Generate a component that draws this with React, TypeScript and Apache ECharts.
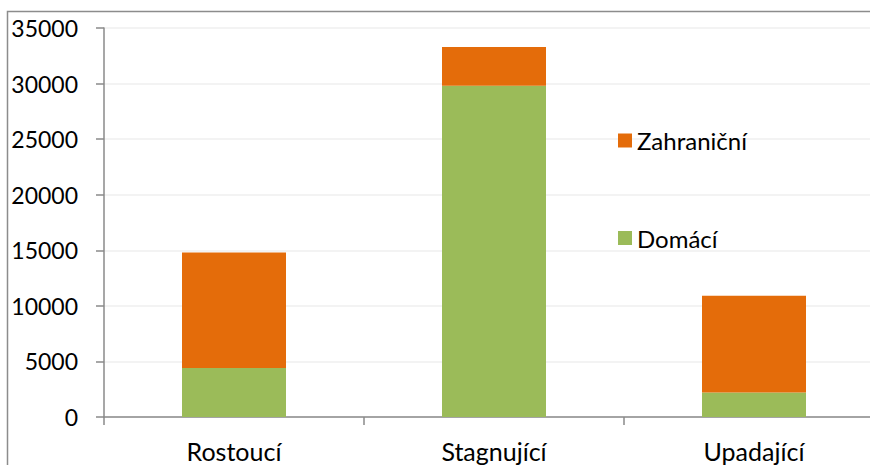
import React, { useEffect, useRef } from "react";
import * as echarts from "echarts";

const categories = ["Rostoucí", "Stagnující", "Upadající"];
const domaci = [4400, 29800, 2200];
const zahranicni = [10400, 3500, 8700];
const yTicks = { min: 0, max: 35000, interval: 5000 };
const seriesNames = ["Domácí", "Zahraniční"];

export default function App() {
  const ref = useRef<HTMLDivElement>(null);
  useEffect(() => {
    document.body.style.margin = "0";
    document.body.style.overflow = "hidden";
    const chart = echarts.init(ref.current!, null, { renderer: "svg" });
    const font = "Lato";
    const legendText = { fontFamily: font, fontSize: 24, lineHeight: 24, color: "#000" };
    chart.setOption({
      animation: false,
      backgroundColor: "#ffffff",
      textStyle: { fontFamily: font },
      grid: { left: 104, right: 0, top: 28, bottom: 48 },
      legend: [
        {
          data: [seriesNames[1]],
          left: 618,
          top: 128.5,
          padding: 0,
          orient: "vertical",
          icon: "rect",
          itemWidth: 14,
          itemHeight: 14,
          textStyle: legendText,
          selectedMode: false,
        },
        {
          data: [seriesNames[0]],
          left: 618,
          top: 226,
          padding: 0,
          orient: "vertical",
          icon: "rect",
          itemWidth: 14,
          itemHeight: 14,
          textStyle: legendText,
          selectedMode: false,
        },
      ],
      xAxis: {
        type: "category",
        data: categories,
        axisLine: { lineStyle: { color: "#8a8a8a", width: 1.5 } },
        axisTick: { show: true, length: 8, lineStyle: { color: "#8a8a8a", width: 1.5 } },
        axisLabel: { color: "#000", fontSize: 25, margin: 21, fontFamily: font },
        splitLine: { show: false },
      },
      yAxis: {
        type: "value",
        min: yTicks.min,
        max: yTicks.max,
        interval: yTicks.interval,
        axisLine: { show: true, lineStyle: { color: "#8a8a8a", width: 1.5 } },
        axisTick: { show: true, length: 8, lineStyle: { color: "#8a8a8a", width: 1.5 } },
        axisLabel: {
          color: "#000",
          fontSize: 23,
          margin: 26,
          fontFamily: font,
          formatter: (v: number) => String(v),
        },
        splitLine: { show: true, lineStyle: { color: "#efefef", width: 1.5 } },
      },
      graphic: [
        {
          type: "rect",
          shape: { x: 7.5, y: 11.5, width: 900, height: 600 },
          style: { fill: "none", stroke: "#8c8c8c", lineWidth: 1.5 },
          z: 100,
          silent: true,
        },
      ],
      series: [
        {
          name: seriesNames[0],
          type: "bar",
          stack: "total",
          data: domaci,
          barCategoryGap: "60%",
          itemStyle: { color: "#9BBB59" },
        },
        {
          name: seriesNames[1],
          type: "bar",
          stack: "total",
          data: zahranicni,
          barCategoryGap: "60%",
          itemStyle: { color: "#E46C0A" },
        },
      ],
    });
    return () => chart.dispose();
  }, []);
  return (
    <div style={{ width: 870, height: 465, overflow: "hidden", position: "relative" }}>
      <div ref={ref} style={{ width: 884, height: 465 }} />
    </div>
  );
}
